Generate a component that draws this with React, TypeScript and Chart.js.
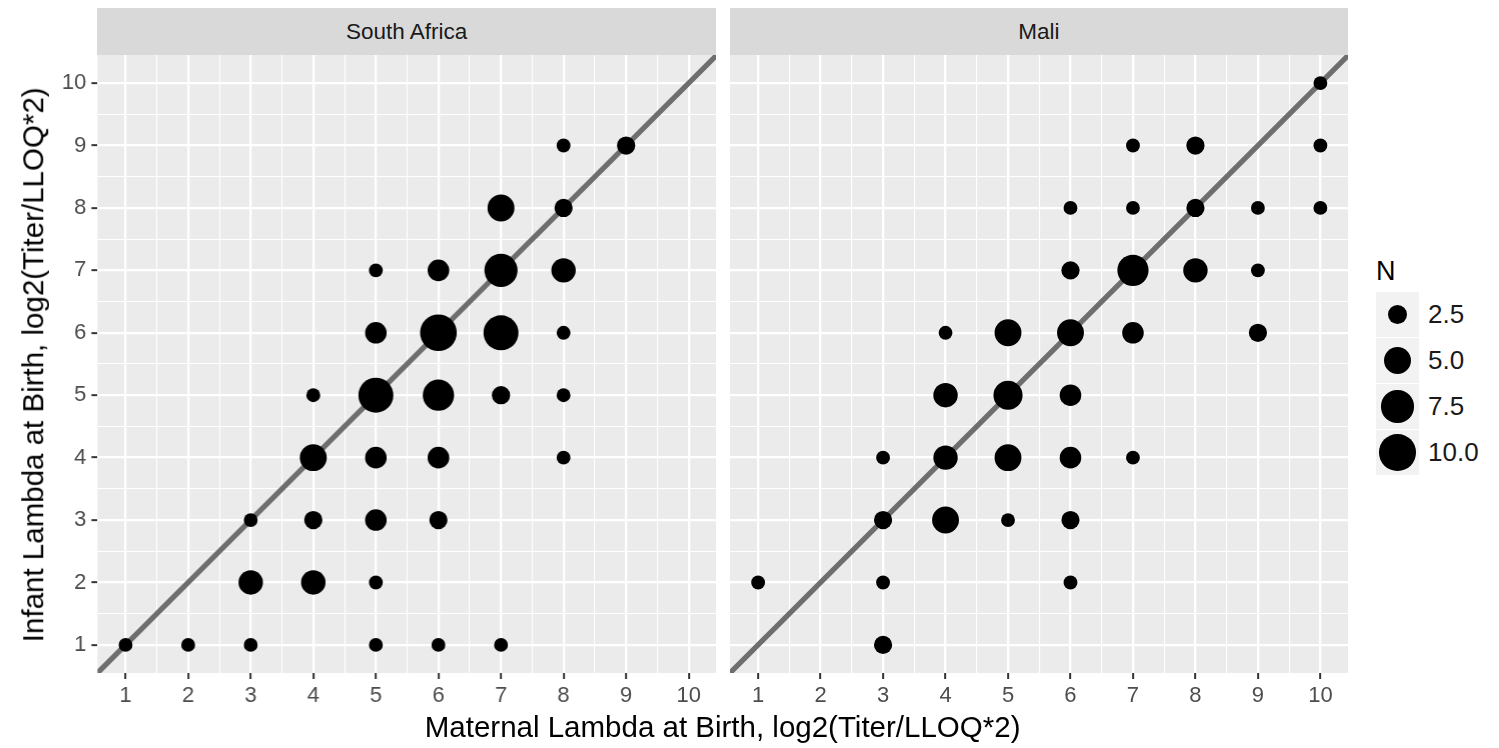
import React, { useEffect, useRef } from "react";
import { Chart, registerables } from "chart.js";
Chart.register(...registerables);

// ---------- data ----------
const FACETS = ["South Africa", "Mali"];
const AXIS_TICKS = [1, 2, 3, 4, 5, 6, 7, 8, 9, 10];
const AXIS_MIN = 0.55;
const AXIS_MAX = 10.45;
const X_TITLE = "Maternal Lambda at Birth, log2(Titer/LLOQ*2)";
const Y_TITLE = "Infant Lambda at Birth, log2(Titer/LLOQ*2)";
const LEGEND_TITLE = "N";
const LEGEND_BREAKS = [2.5, 5.0, 7.5, 10.0];
const LEGEND_LABELS = ["2.5", "5.0", "7.5", "10.0"];

const SA_MATERNAL = [9, 8, 7, 8, 5, 6, 7, 8, 5, 6, 7, 8, 4, 5, 6, 7, 8, 4, 5, 6, 8, 3, 4, 5, 6, 3, 4, 5, 1, 2, 3, 5, 6, 7];
const SA_INFANT = [9, 9, 8, 8, 7, 7, 7, 7, 6, 6, 6, 6, 5, 5, 5, 5, 5, 4, 4, 4, 4, 3, 3, 3, 3, 2, 2, 2, 1, 1, 1, 1, 1, 1];
const SA_N = [2, 1, 5, 2, 1, 3, 8, 4, 3, 10, 9, 1, 1, 9, 7, 2, 1, 5, 3, 3, 1, 1, 2, 3, 2, 4, 4, 1, 1, 1, 1, 1, 1, 1];

const MALI_MATERNAL = [10, 7, 8, 10, 6, 7, 8, 9, 10, 6, 7, 8, 9, 4, 5, 6, 7, 9, 4, 5, 6, 3, 4, 5, 6, 7, 3, 4, 5, 6, 1, 3, 6, 3];
const MALI_INFANT = [10, 9, 9, 9, 8, 8, 8, 8, 8, 7, 7, 7, 7, 6, 6, 6, 6, 6, 5, 5, 5, 4, 4, 4, 4, 4, 3, 3, 3, 3, 2, 2, 2, 1];
const MALI_N = [1, 1, 2, 1, 1, 1, 2, 1, 1, 2, 7, 4, 1, 1, 5, 5, 3, 2, 4, 6, 3, 1, 4, 5, 3, 1, 2, 5, 1, 2, 1, 1, 1, 2];

// ---------- styling ----------
const FONT = '"Liberation Sans", Arial, Helvetica, sans-serif';
const SIZE_BASE = 3.3;
const SIZE_SLOPE = 10.55;
const diameter = (n: number) => SIZE_BASE + SIZE_SLOPE * Math.sqrt(n);

const PANEL_TOP = 55;
const PANEL_H = 618;
const LEFT_PANEL_X = 97.3;
const PANEL_W = 618.5;
const RIGHT_PANEL_X = 729.6;
const XAXIS_H = 42;
const LEGEND_X = 1376;

const isMajor = (v: number) => Math.abs(v - Math.round(v)) < 1e-6;

const gridValues = () => {
  const out: number[] = [];
  for (let i = 0; i < AXIS_TICKS.length; i++) {
    out.push(AXIS_TICKS[i]);
    if (i < AXIS_TICKS.length - 1) out.push((AXIS_TICKS[i] + AXIS_TICKS[i + 1]) / 2);
  }
  return out;
};

const bgPlugin = {
  id: "panelBg",
  beforeDraw(chart: any) {
    const { ctx, chartArea: a } = chart;
    ctx.save();
    ctx.fillStyle = "#EBEBEB";
    ctx.fillRect(a.left, a.top, a.right - a.left, a.bottom - a.top);
    ctx.restore();
  },
};

function axisOpts(showLabels: boolean, isX: boolean, fitSize: number) {
  return {
    type: "linear",
    min: AXIS_MIN,
    max: AXIS_MAX,
    afterBuildTicks: (s: any) => {
      s.ticks = gridValues().map((v) => ({ value: v }));
    },
    afterFit: (s: any) => {
      if (isX) s.height = fitSize;
      else s.width = fitSize;
      s.paddingTop = 0;
      s.paddingBottom = 0;
      s.paddingLeft = 0;
      s.paddingRight = 0;
    },
    border: { display: false },
    grid: {
      color: "#FFFFFF",
      lineWidth: (c: any) => (c.tick && isMajor(c.tick.value) ? 2.3 : 1.1),
      drawTicks: showLabels,
      tickLength: 6,
      tickWidth: 2,
      tickColor: (c: any) => (c.tick && isMajor(c.tick.value) ? "#333333" : "rgba(0,0,0,0)"),
    },
    ticks: {
      display: showLabels,
      autoSkip: false,
      maxRotation: 0,
      minRotation: 0,
      padding: isX ? 4 : 5,
      color: "#4D4D4D",
      font: { family: FONT, size: 22 },
      callback: (v: any) => (isMajor(Number(v)) ? String(v) : ""),
    },
  };
}

function Panel({ left, maternal, infant, n, showY }: any) {
  const ref = useRef<HTMLCanvasElement>(null);
  useEffect(() => {
    if (!ref.current) return;
    const points = maternal.map((x: number, i: number) => ({ x, y: infant[i], n: n[i] }));
    const chart = new Chart(ref.current, {
      type: "scatter",
      data: {
        datasets: [
          {
            data: points,
            order: 0,
            backgroundColor: "#000000",
            borderWidth: 0,
            pointRadius: (c: any) => (c.raw ? diameter(c.raw.n) / 2 : 0),
            pointHoverRadius: (c: any) => (c.raw ? diameter(c.raw.n) / 2 : 0),
            pointBorderWidth: 0,
            clip: false,
          } as any,
          {
            data: [
              { x: AXIS_MIN, y: AXIS_MIN },
              { x: AXIS_MAX, y: AXIS_MAX },
            ],
            order: 1,
            showLine: true,
            borderColor: "#6E6E6E",
            borderWidth: 5.2,
            pointRadius: 0,
            clip: 0,
          } as any,
        ],
      },
      options: {
        animation: false,
        responsive: true,
        maintainAspectRatio: false,
        events: [],
        layout: { padding: 0, autoPadding: false },
        plugins: { legend: { display: false }, tooltip: { enabled: false } },
        scales: {
          x: axisOpts(true, true, XAXIS_H) as any,
          y: axisOpts(showY, false, showY ? LEFT_PANEL_X : 0) as any,
        },
      },
      plugins: [bgPlugin],
    });
    return () => chart.destroy();
  }, []);
  const w = showY ? LEFT_PANEL_X + PANEL_W : PANEL_W;
  return (
    <div style={{ position: "absolute", left, top: PANEL_TOP, width: w, height: PANEL_H + XAXIS_H }}>
      <canvas ref={ref} />
    </div>
  );
}

function Strip({ left, label }: any) {
  return (
    <div
      style={{
        position: "absolute",
        left,
        top: 8.3,
        width: PANEL_W,
        height: PANEL_TOP - 8.3,
        background: "#D9D9D9",
        display: "flex",
        alignItems: "center",
        justifyContent: "center",
        fontFamily: FONT,
        fontSize: 22.5,
        color: "#1A1A1A",
      }}
    >
      {label}
    </div>
  );
}

export default function App() {
  const titleSize = 29.5;
  return (
    <div style={{ position: "absolute", left: 0, top: 0, width: 1499, height: 748, background: "#FFFFFF", overflow: "hidden" }}>
      <Strip left={LEFT_PANEL_X} label={FACETS[0]} />
      <Strip left={RIGHT_PANEL_X} label={FACETS[1]} />
      <Panel left={0} maternal={SA_MATERNAL} infant={SA_INFANT} n={SA_N} showY={true} />
      <Panel left={RIGHT_PANEL_X} maternal={MALI_MATERNAL} infant={MALI_INFANT} n={MALI_N} showY={false} />
      <div
        style={{
          position: "absolute",
          left: 722.6 - 400,
          top: 712,
          width: 800,
          height: titleSize,
          lineHeight: `${titleSize}px`,
          textAlign: "center",
          fontFamily: FONT,
          fontSize: titleSize,
          color: "#000000",
          whiteSpace: "nowrap",
        }}
      >
        {X_TITLE}
      </div>
      <div
        style={{
          position: "absolute",
          left: 32.8 - 350,
          top: 364.5 - titleSize / 2,
          width: 700,
          height: titleSize,
          lineHeight: `${titleSize}px`,
          textAlign: "center",
          fontFamily: FONT,
          fontSize: titleSize,
          color: "#000000",
          whiteSpace: "nowrap",
          transform: "rotate(-90deg)",
        }}
      >
        {Y_TITLE}
      </div>
      <div
        style={{
          position: "absolute",
          left: LEGEND_X,
          top: 258,
          fontFamily: FONT,
          fontSize: 27,
          lineHeight: "27px",
          color: "#000000",
        }}
      >
        {LEGEND_TITLE}
      </div>
      {LEGEND_BREAKS.map((b, i) => {
        const d = diameter(b);
        const top = 292 + i * 46;
        return (
          <React.Fragment key={i}>
            <div style={{ position: "absolute", left: LEGEND_X, top, width: 43, height: 45, background: "#F2F2F2" }}>
              <div
                style={{
                  position: "absolute",
                  left: 21.5 - d / 2,
                  top: 22.5 - d / 2,
                  width: d,
                  height: d,
                  borderRadius: "50%",
                  background: "#000000",
                }}
              />
            </div>
            <div
              style={{
                position: "absolute",
                left: LEGEND_X + 52,
                top,
                height: 45,
                lineHeight: "45px",
                fontFamily: FONT,
                fontSize: 26,
                color: "#1A1A1A",
              }}
            >
              {LEGEND_LABELS[i]}
            </div>
          </React.Fragment>
        );
      })}
    </div>
  );
}
